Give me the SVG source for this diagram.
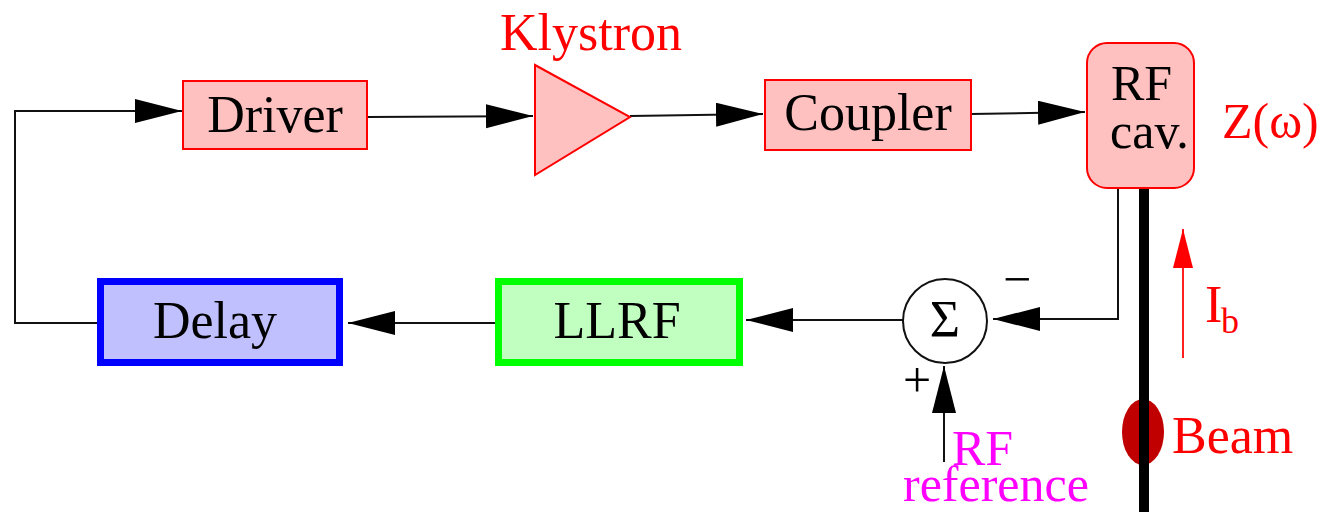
<svg xmlns="http://www.w3.org/2000/svg" width="1330" height="512" viewBox="0 0 1330 512">
<style>
text{font-family:"Liberation Serif","Times New Roman",serif;}
.lbl{font-size:52px;fill:#000;text-anchor:middle;}
.red{fill:#ff0000;}
.mag{fill:#ff00ff;font-size:50px;}
.box{fill:#ffc0c0;stroke:#ff0000;stroke-width:2;}
.wire{fill:none;stroke:#111;stroke-width:2;marker-end:url(#ah);}
</style>
<defs>
<marker id="ah" markerUnits="userSpaceOnUse" markerWidth="48" markerHeight="26" refX="47" refY="12" orient="auto">
<path d="M0,0 L47,12 L0,24 z" fill="#000"/>
</marker>
<marker id="ahr" markerUnits="userSpaceOnUse" markerWidth="40" markerHeight="22" refX="39" refY="10" orient="auto">
<path d="M0,0 L39,10 L0,20 z" fill="#ff0000"/>
</marker>
</defs>
<g id="connectors">
<path class="wire" d="M97,323 H15 V111 H182"/>
<path class="wire" d="M367,117 L533,116"/>
<path class="wire" d="M630,116 L763,114"/>
<path class="wire" d="M971,114 L1085,112"/>
<path class="wire" d="M1118,188 V319 H993"/>
<path class="wire" d="M903,320 H746"/>
<path class="wire" d="M495,323 H348"/>
<path class="wire" d="M944,462 V366"/>
</g>
<g id="beam">
<line x1="1144" y1="188" x2="1144" y2="512" stroke="#000" stroke-width="10"/>
<ellipse cx="1143" cy="432" rx="21" ry="33" fill="#c00000"/>
<line x1="1144" y1="398" x2="1144" y2="466" stroke="#000" stroke-width="10"/>
<text x="1172" y="453" class="red" font-size="52">Beam</text>
</g>
<g id="current">
<line x1="1183" y1="358" x2="1183" y2="229" stroke="#ff2020" stroke-width="2" marker-end="url(#ahr)"/>
<text x="1205" y="322" class="red" font-size="52">I</text>
<text x="1221" y="333" class="red" font-size="36">b</text>
</g>
<g id="driver">
<rect class="box" x="183" y="81" width="184" height="68"/>
<text class="lbl" x="275" y="132">Driver</text>
</g>
<g id="klystron">
<polygon class="box" points="535,65 630,117 535,175"/>
<text x="591" y="50" class="red" font-size="52" text-anchor="middle">Klystron</text>
</g>
<g id="coupler">
<rect class="box" x="765" y="80" width="206" height="70"/>
<text class="lbl" x="868" y="130">Coupler</text>
</g>
<g id="rfcav">
<rect class="box" x="1087" y="43" width="107" height="145" rx="20"/>
<text x="1111" y="100" font-size="50" fill="#000">RF</text>
<text x="1110" y="148" font-size="50" fill="#000">cav.</text>
<text x="1222" y="138" class="red" font-size="50">Z(ω)</text>
</g>
<g id="sum">
<circle cx="945" cy="321" r="42" fill="#fff" stroke="#111" stroke-width="2"/>
<text class="lbl" x="945" y="337" font-size="46">Σ</text>
<text x="1017" y="296" font-size="50" text-anchor="middle" fill="#000">−</text>
<text x="917" y="397" font-size="50" text-anchor="middle" fill="#000">+</text>
</g>
<g id="rfref">
<text x="952" y="465" class="mag">RF</text>
<text x="903" y="501" class="mag">reference</text>
</g>
<g id="llrf">
<rect x="498.5" y="281.5" width="241" height="81" fill="#c0ffc0" stroke="#00ff00" stroke-width="7"/>
<text class="lbl" x="617" y="338">LLRF</text>
</g>
<g id="delay">
<rect x="100.5" y="281.5" width="239" height="81" fill="#c0c0ff" stroke="#0000ff" stroke-width="7"/>
<text class="lbl" x="215" y="338">Delay</text>
</g>
</svg>
